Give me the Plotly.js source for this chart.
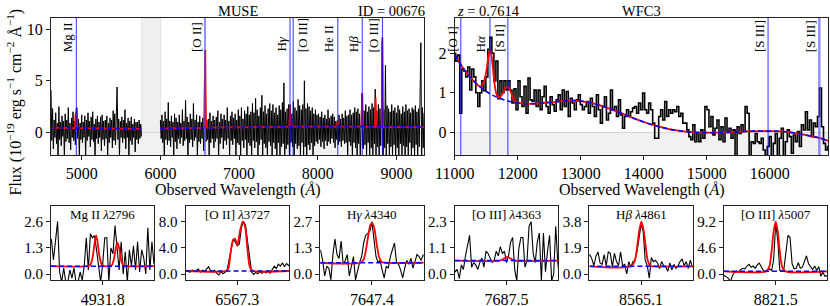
<!DOCTYPE html>
<html><head><meta charset="utf-8">
<script src="https://cdn.plot.ly/plotly-3.0.1.min.js"></script>
<style>html,body{margin:0;padding:0;background:#fff}#plot{width:830px;height:306px}</style>
</head><body><div id="plot"></div>
<script>
// ---------------- DATA ----------------
// MUSE spectrum (flux, 1e-19 cgs), two segments on a 10 A grid
const museStart1 = 4610, museStart2 = 6000, museStep = 10;
const museFlux1 = [
4.1,-0.8,2.3,-1.6,1.2,-0.5,1.9,-1.1,0.9,-2.4,
2.5,-0.7,1.0,-1.3,1.6,-0.4,1.1,-2.4,1.8,-0.9,
1.2,-0.6,2.4,-1.0,0.9,-1.7,1.4,-0.5,2.0,-0.8,
1.1,-1.2,2.2,2.4,-0.6,1.3,-2.4,0.9,-0.7,1.7,
-1.0,1.0,-0.5,1.6,-2.4,1.2,-0.8,1.9,-0.4,1.1,
-1.4,1.5,-0.7,2.0,-0.9,0.8,-2.4,1.3,-0.6,1.6,
-1.1,1.0,-0.5,1.5,-1.8,1.7,-0.7,1.1,-1.3,1.2,
-0.6,1.6,-2.4,0.9,-1.0,1.4,-0.5,1.2,-1.5,2.1,
-0.8,1.8,-1.2,1.0,4.4,-0.7,1.3,-2.4,1.1,-0.5,
1.5,-1.0,1.2,-0.6,2.2,-1.6,0.9,-0.5,1.4,-2.4,
1.1,-0.8,1.5,-1.2,0.8,-0.5,1.3,-1.9,1.0,-0.7,
1.0,-1.1,1.2,-0.6,0.8,-0.4];
const museFlux2 = [
1.2,-0.6,1.7,-1.0,1.1,-2.4,2.0,-0.7,1.3,-1.2,
2.9,-0.8,1.1,-1.4,1.6,-0.5,1.0,-2.4,1.8,-0.9,
1.4,-1.6,1.0,-0.6,1.7,-1.1,0.9,-0.5,2.2,-1.3,
1.1,-0.8,3.1,-0.6,1.5,-2.4,1.0,-1.0,1.8,-0.7,
1.3,-1.4,2.8,-0.8,1.2,-0.5,1.7,-2.4,1.0,-0.9,
1.6,-1.1,1.0,-0.6,1.4,-1.8,1.7,7.9,-0.9,1.2,
-0.7,1.3,-2.4,1.9,-1.0,1.1,-0.6,1.6,-1.5,1.2,
-0.9,1.5,-0.6,2.1,-2.4,1.0,-1.1,1.8,-0.5,1.3,
-1.6,1.7,-0.8,1.2,-1.2,2.4,-0.6,1.1,-2.4,1.6,
-0.8,2.0,-1.2,1.4,-0.6,1.8,-2.4,1.2,-1.0,2.2,
-1.2,1.6,-2.4,2.4,-0.8,1.3,-1.5,2.1,-0.7,1.8,
-2.4,2.5,-1.0,1.7,-1.3,2.0,-2.4,2.8,-0.8,1.9,
-1.5,3.3,-0.9,2.2,-2.4,1.6,-1.2,2.4,-0.7,3.6,
-2.4,2.0,-1.1,2.6,-1.5,1.8,-2.4,2.3,-0.9,2.8,
-1.3,2.1,-2.4,2.7,-1.0,1.9,-1.6,2.4,-2.4,1.7,
-1.0,2.6,-2.4,2.2,-1.4,2.9,-1.1,4.8,-2.4,2.0,
-1.6,2.3,-1.2,2.7,-2.4,2.7,-1.0,1.8,-1.4,3.0,
-2.4,2.4,-1.1,2.1,-1.6,3.2,-1.3,2.6,-2.4,2.2,
-1.0,2.7,-2.4,5.0,-1.4,2.3,-2.4,2.8,-1.2,2.5,
-1.7,2.1,-1.0,2.4,-2.4,1.8,-1.3,2.2,-0.9,1.7,
-1.1,1.8,-0.7,1.5,-1.4,2.0,-0.9,1.4,-1.6,1.7,
-0.8,1.3,-1.3,2.2,-0.9,1.4,-1.1,1.6,-0.6,1.8,
-1.0,1.5,-1.5,1.1,-0.7,1.2,-1.2,1.7,-0.9,1.3,
-1.4,1.8,-0.8,1.4,-1.1,2.1,-1.0,1.6,-2.4,1.7,
-0.9,2.2,-1.3,1.7,-2.4,1.9,-1.0,2.4,-1.5,2.0,
-2.4,2.3,-1.1,1.8,-2.4,2.6,3.7,-1.4,-1.6,2.1,
-1.2,2.7,-2.4,2.0,-1.0,2.5,-2.4,2.2,-1.5,2.8,
-2.4,2.4,-1.1,4.2,-2.4,2.1,-1.4,2.7,-2.4,2.3,
-1.3,2.5,8.9,-2.4,2.2,-1.5,6.5,-2.4,2.6,-1.1,
2.3,-2.4,2.0,-1.4,2.7,-2.4,2.1,-1.2,2.4,-2.4,
1.9,-1.5,2.6,-2.4,2.2,-1.1,1.8,-2.4,2.5,-1.3,
2.0,-2.4,2.7,-1.4,2.1,-2.4,2.3,-1.0,1.9,-2.4,
2.4,-1.5,2.2,-2.4,2.6,-1.2,2.0,-2.4,2.3,-1.4,
2.1,8.7,-2.4,2.4,-1.5,1.9];
// MUSE model (red) and continuum (blue dashed)
const museModelWave = [4610,4915,4921,4926,4931,4935,4939,4944,5760,5880,6000,6557,6561,6565,6568,6571,6575,6580,7640,7644,7647,7651,7655,7683,7688,7692,8249,8254,8259,8557,8561,8565,8569,8573,8727,8731,8735,8739,8743,8813,8817,8821,8825,8829,9350];
const museModelFlux = [0.45,0.40,1.5,1.95,1.0,1.3,1.6,0.40,0.33,null,0.36,0.44,3.5,5.4,4.5,8.0,3.0,0.45,0.55,1.6,2.6,1.6,0.55,0.56,0.75,0.56,0.55,1.2,0.55,0.55,2.4,3.85,2.4,0.55,0.53,2.2,3.36,2.2,0.53,0.52,6.0,9.2,6.0,0.52,0.54];
const museContWave = [4610,5760,5880,6000,6570,7650,8560,9350];
const museContFlux = [0.45,0.33,null,0.36,0.45,0.55,0.55,0.54];
const museGap = [5762, 6004];
const museLineWaves = [4931.8, 6567.3, 7647.4, 7687.5, 8254.6, 8565.1, 8821.5];
const museLineNames = ['Mg II','[O II]','H<i>γ</i>','[O III]','He II','H<i>β</i>','[O III]'];
const museLabelSide = ['l','l','l','r','l','l','l'];

// WFC3 spectrum
const wfc3Start = 11000, wfc3Step = 31.9;
const wfc3Flux = [
2.0,1.8,1.95,0.48,1.6,1.55,1.4,1.65,1.07,1.6,
1.4,1.0,0.65,1.0,1.3,1.05,1.4,2.1,2.4,2.0,
1.3,1.8,0.85,1.3,1.0,1.3,1.07,1.3,1.07,0.74,
1.1,0.57,1.3,0.9,0.65,1.16,0.48,1.37,0.82,0.78,
1.07,0.65,1.07,0.57,0.9,1.16,0.65,0.48,0.9,0.7,
0.53,0.82,0.95,0.57,1.07,0.65,1.03,0.4,0.86,0.74,
0.57,0.82,0.95,0.7,0.57,0.65,0.78,0.48,0.86,0.65,
0.4,0.95,0.57,0.23,0.65,0.9,0.31,0.48,1.07,0.57,
0.65,0.4,0.82,0.44,0.1,0.4,0.57,
0.40,0.52,0.61,0.65,0.48,0.74,0.57,0.99,0.57,0.48,
0.74,0.57,0.23,-0.15,-0.15,0.40,0.57,0.31,0.78,0.40,
0.57,0.48,0.57,0.52,0.65,0.40,0.48,0.23,0.23,0.06,
-0.11,-0.19,0.19,-0.24,-0.03,-0.24,0.06,-0.15,0.65,0.57,
0.14,0.40,-0.07,0.10,0.31,-0.19,0.14,-0.24,0.36,0.02,
0.10,-0.15,0.06,-0.7,0.14,-0.03,0.19,0.02,0.65,0.48,
-0.7,-0.24,-0.28,-0.03,-0.24,-0.28,-0.15,-0.45,-0.7,-0.36,
-0.11,-0.7,-0.28,-0.03,-0.7,-0.15,0.10,-0.7,-0.24,0.06,
-0.11,-0.53,-0.07,-0.24,0.02,-0.36,0.19,0.06,0.52,0.06,
0.31,-0.11,0.23,0.14,0.40,1.12,0.14,-0.28,-0.45,-0.36];
const wfc3ModelWave = [11000,11100,11200,11300,11400,11450,11480,11500,11520,11540,11560,11580,11600,11620,11640,11660,11680,11700,11720,11750,11780,11810,11840,11870,11900,11930,11960,12000,12200,12400,12600,12800,13000,13200,13400,13600,13800,14000,14200,14400,14600,14800,15000,15200,15400,15600,15800,16000,16200,16400,16600,16800,16930];
const wfc3ModelFlux = [1.96,1.70,1.48,1.30,1.16,1.22,1.38,1.52,1.75,1.96,2.08,1.98,1.72,1.40,1.14,0.98,0.90,0.88,0.89,0.95,1.04,1.12,1.15,1.10,0.98,0.86,0.79,0.75,0.72,0.74,0.77,0.80,0.79,0.73,0.63,0.51,0.38,0.26,0.16,0.08,0.03,0.0,-0.01,-0.01,0.0,0.02,0.03,0.03,0.02,-0.02,-0.08,-0.15,-0.22];
const wfc3ContWave = [11000,11100,11200,11300,11400,11500,11600,11700,11800,11900,12000,12200,12400,12600,12800,13000,13200,13400,13600,13800,14000,14200,14400,14600,14800,15000,15200,15400,15600,15800,16000,16200,16400,16600,16800,16930];
const wfc3ContFlux = [1.96,1.70,1.48,1.30,1.15,1.03,0.94,0.87,0.81,0.77,0.74,0.72,0.74,0.77,0.80,0.79,0.73,0.63,0.51,0.38,0.26,0.16,0.08,0.03,0.0,-0.01,-0.01,0.0,0.02,0.03,0.03,0.02,-0.02,-0.08,-0.15,-0.22];
const wfc3LineWaves = [11097, 11560, 11844, 15974, 16788];
const wfc3LineNames = ['[O I]','H<i>α</i>','[S II]','[S III]','[S III]'];

// Zoom-in panels
const zoomCenters = [4931.8, 6567.3, 7647.4, 7687.5, 8565.1, 8821.5];
const zoomTitles = ['Mg II <i>λ</i>2796','[O II] <i>λ</i>3727','H<i>γ</i> <i>λ</i>4340','[O III] <i>λ</i>4363','H<i>β</i> <i>λ</i>4861','[O III] <i>λ</i>5007'];
const zoomTickSteps = [1.3, 4.0, 1.35, 1.15, 1.9, 4.6];
const zoomTickText = [['0.0','1.3','2.6'],['0.0','4.0','8.0'],['0.0','1.3','2.7'],['0.0','1.1','2.3'],['0.0','1.9','3.8'],['0.0','4.6','9.2']];
const zoomCont = [0.39, 0.46, 0.58, 0.59, 0.56, 0.47];
const zoomPixStart = -32.5, zoomPixStep = 1.25, zoomHalfWidth = 31.5;
const zoomFluxMgII = [1.8,1.7,0.7,1.8,2.6,0.1,-0.4,0.3,-0.4,-0.4,0.2,-0.2,0.3,-0.4,-0.4,0.1,-0.3,0.4,1.8,0.2,2.0,1.8,1.9,1.2,0.3,-0.4,0.5,1.8,1.8,-0.4,1.3,1.0,2.4,1.3,0.2,1.6,0.0,1.1,-0.4,1.2,0.4,1.4,0.2,1.6,0.1,1.2,0.8,0.0,2.3,0.2,1.6,0.5,1.0];
const zoomFluxOII = [0.6,0.5,0.45,0.3,0.6,0.35,0.5,0.75,0.3,0.6,0.4,0.8,1.1,0.5,0.3,0.55,0.1,-0.15,0.35,0.05,0.3,0.5,2.2,3.6,5.3,4.9,4.3,4.6,7.1,8.0,7.5,5.0,2.2,0.3,-0.05,0.25,0.05,0.35,0.1,0.45,0.15,0.5,0.1,0.6,1.2,0.85,1.5,1.2,1.7,1.1,1.6,1.3,1.5];
const zoomFluxHg = [1.3,1.2,0.7,-0.1,0.4,0.3,-0.3,1.0,1.8,1.0,0.8,1.7,0.5,0.7,1.0,-0.1,0.4,0.9,-0.3,0.2,0.6,0.9,1.6,2.0,2.1,2.2,2.7,1.8,0.9,0.6,0.7,0.2,-0.2,0.4,0.3,0.9,1.2,1.6,0.6,0.5,0.2,-0.2,0.3,0.7,0.5,0.8,0.3,0.7,1.0,0.9,0.7,1.0,0.8];
const zoomFluxOIII4363 = [0.3,0.1,0.2,-0.2,0.4,0.2,0.8,1.2,1.7,0.3,0.5,0.4,0.2,0.5,0.7,0.3,1.0,0.9,0.7,0.5,0.6,1.0,0.8,1.2,0.9,1.0,0.5,0.8,1.4,1.6,0.2,-0.3,1.1,1.6,1.6,0.3,0.6,2.1,2.3,0.9,0.5,1.4,1.8,-0.3,1.8,0.1,1.0,1.7,-0.3,0.0,2.1,0.5,-0.3];
const zoomFluxHb = [1.2,1.4,1.1,0.6,1.3,1.6,0.8,0.7,1.4,0.6,1.6,1.5,0.5,1.5,0.9,0.6,1.6,0.6,0.7,0.0,0.9,0.5,0.9,1.0,1.6,2.6,3.6,3.1,1.0,0.6,-0.3,1.2,0.9,1.0,0.8,0.4,0.9,0.6,0.5,0.2,0.8,0.3,0.7,0.4,0.6,0.9,1.1,0.6,0.9,0.4,1.0,0.5,0.7];
const zoomFluxOIII5007 = [0.1,-0.3,-0.5,-0.8,-1.3,-0.2,0.3,0.5,0.4,0.8,1.0,0.9,1.4,1.7,1.2,1.4,1.0,1.6,1.9,1.3,0.6,0.4,0.6,0.9,0.6,2.5,8.9,6.0,0.6,0.5,0.9,3.5,6.8,6.4,1.8,0.9,1.0,2.0,1.0,1.2,2.2,3.2,1.8,1.2,0.8,1.4,0.6,1.3,-0.4,0.3,-0.4,-0.3,-0.9];
const zoomModelOffMgII = [-31.5,-9,-7.5,-6,-5,-4,-3,-2,-0.5,1,4,5.5,7,8,9,10,11,12.5,14,31.5];
const zoomModelValMgII = [0.39,0.39,0.45,0.9,1.5,1.92,1.5,0.9,0.45,0.39,0.39,0.43,0.8,1.3,1.56,1.3,0.8,0.43,0.39,0.39];
const zoomModelOffOII = [-31.5,-7,-5.5,-4.2,-2.6,-1.4,0,1.6,3.3,4.7,6.1,7.7,9.3,31.5];
const zoomModelValOII = [0.46,0.46,0.8,3.0,5.2,5.4,4.4,6.5,8.0,7.3,4.0,1.0,0.5,0.46];
const zoomModelOffHg = [-31.5,-7,-5,-3.5,-2,-0.8,0.4,1.6,3,4.5,6,8,31.5];
const zoomModelValHg = [0.58,0.58,0.75,1.3,2.1,2.55,2.6,2.3,1.5,0.85,0.62,0.58,0.58];
const zoomModelOffOIII4363 = [-31.5,-4,-2,0.5,3,5,31.5];
const zoomModelValOIII4363 = [0.59,0.59,0.66,0.75,0.66,0.59,0.59];
const zoomModelOffHb = [-31.5,-6,-4,-2.5,-1.2,0.2,1.5,2.8,4,5.5,7,31.5];
const zoomModelValHb = [0.56,0.56,0.9,1.9,3.1,3.8,3.2,2.0,1.0,0.6,0.56,0.56];
const zoomModelOffOIII5007 = [-31.5,-6,-4,-2.5,-1.2,0,1.2,2.5,4,6,31.5];
const zoomModelValOIII5007 = [0.47,0.47,1.2,4.0,7.6,9.2,7.6,4.0,1.2,0.47,0.47];

// ---------------- LAYOUT HELPERS ----------------
const W = 830, H = 306;
const FONT = 'Liberation Serif, Times New Roman, serif';
const fx = p => p / W;
const fy = p => 1 - p / H;
const FRAME = '#222';
const BLUE = '#0000ff', RED = '#ff0000';

const zoomFlux = [zoomFluxMgII, zoomFluxOII, zoomFluxHg, zoomFluxOIII4363, zoomFluxHb, zoomFluxOIII5007];
const zoomModelOff = [zoomModelOffMgII, zoomModelOffOII, zoomModelOffHg, zoomModelOffOIII4363, zoomModelOffHb, zoomModelOffOIII5007];
const zoomModelVal = [zoomModelValMgII, zoomModelValOII, zoomModelValHg, zoomModelValOIII4363, zoomModelValHb, zoomModelValOIII5007];

const axBase = () => ({
  showline: true, mirror: true, linecolor: FRAME, linewidth: 1,
  ticks: 'outside', ticklen: 4, tickwidth: 1, tickcolor: FRAME,
  showgrid: false, zeroline: false, fixedrange: true,
  exponentformat: 'none', separatethousands: false,
  tickfont: {family: FONT, size: 16, color: '#000'}
});

const leftPx = {x0: 51, x1: 424, y0: 18, y1: 155};
const rightPx = {x0: 454.7, x1: 828.3, y0: 18, y1: 155};
const leftXRange = [4610, 9350], leftYRange = [-2.2, 11.1];
const rightXRange = [11000, 16930], rightYRange = [-0.575, 2.89];

const traces = [];
const shapes = [];
const annotations = [];

// --- MUSE panel ---
const museWave1 = museFlux1.map((_, i) => museStart1 + i * museStep);
const museWave2 = museFlux2.map((_, i) => museStart2 + i * museStep);
traces.push({x: museWave1, y: museFlux1, xaxis: 'x', yaxis: 'y', mode: 'lines', line: {color: '#000', width: 1}, hoverinfo: 'skip'});
traces.push({x: museWave2, y: museFlux2, xaxis: 'x', yaxis: 'y', mode: 'lines', line: {color: '#000', width: 1}, hoverinfo: 'skip'});
traces.push({x: museModelWave, y: museModelFlux, xaxis: 'x', yaxis: 'y', mode: 'lines', line: {color: RED, width: 1.8}, hoverinfo: 'skip'});
traces.push({x: museContWave, y: museContFlux, xaxis: 'x', yaxis: 'y', mode: 'lines', line: {color: BLUE, width: 1.6, dash: '5px,3px'}, hoverinfo: 'skip'});

shapes.push({type: 'rect', xref: 'x', yref: 'y domain', x0: museGap[0], x1: museGap[1], y0: 0, y1: 1, fillcolor: '#efefef', line: {color: '#e2e2e2', width: 1}, layer: 'below'});
shapes.push({type: 'rect', xref: 'x domain', yref: 'y', x0: 0, x1: 1, y0: leftYRange[0], y1: 0, fillcolor: '#f1f1f1', line: {width: 0}, layer: 'below'});
museLineWaves.forEach((w, i) => {
  const wide = (i === 1);
  shapes.push({type: 'line', xref: 'x', yref: 'y domain', x0: w, x1: w, y0: 0, y1: 1,
    line: {color: wide ? 'rgba(70,70,255,0.6)' : 'rgba(0,0,255,0.8)', width: wide ? 2 : 1}, layer: 'above'});
  const right = museLabelSide[i] === 'r';
  annotations.push({x: w, xref: 'x', y: fy(53), yref: 'paper', text: museLineNames[i], textangle: -90,
    xanchor: right ? 'left' : 'right', yanchor: 'bottom', showarrow: false, xshift: right ? 0.5 : -0.5,
    font: {family: FONT, size: 13, color: '#000'}, borderpad: 0});
});

// --- WFC3 panel ---
const wfc3Wave = wfc3Flux.map((_, i) => wfc3Start + i * wfc3Step);
traces.push({x: wfc3Wave, y: wfc3Flux, xaxis: 'x2', yaxis: 'y2', mode: 'lines', line: {color: '#000', width: 1.6, shape: 'hvh'}, hoverinfo: 'skip'});
traces.push({x: wfc3ModelWave, y: wfc3ModelFlux, xaxis: 'x2', yaxis: 'y2', mode: 'lines', line: {color: RED, width: 1.8, shape: 'spline'}, hoverinfo: 'skip'});
traces.push({x: wfc3ContWave, y: wfc3ContFlux, xaxis: 'x2', yaxis: 'y2', mode: 'lines', line: {color: BLUE, width: 1.6, dash: '5px,3px', shape: 'spline'}, hoverinfo: 'skip'});
shapes.push({type: 'rect', xref: 'x2 domain', yref: 'y2', x0: 0, x1: 1, y0: rightYRange[0], y1: 0, fillcolor: '#f1f1f1', line: {width: 0}, layer: 'below'});
wfc3LineWaves.forEach((w, i) => {
  const wide = (i === 4);
  shapes.push({type: 'line', xref: 'x2', yref: 'y2 domain', x0: w, x1: w, y0: 0, y1: 1,
    line: {color: wide ? 'rgba(70,70,255,0.6)' : 'rgba(0,0,255,0.8)', width: wide ? 2.5 : 1}, layer: 'above'});
  annotations.push({x: w, xref: 'x2', y: fy(53), yref: 'paper', text: wfc3LineNames[i], textangle: -90,
    xanchor: 'right', yanchor: 'bottom', showarrow: false, xshift: -0.5,
    font: {family: FONT, size: 13, color: '#000'}, borderpad: 0});
});

const layout = {
  width: W, height: H, margin: {l: 0, r: 0, t: 0, b: 0},
  paper_bgcolor: '#fff', plot_bgcolor: '#fff', showlegend: false,
  font: {family: FONT, size: 16, color: '#000'},
  xaxis: Object.assign(axBase(), {domain: [fx(leftPx.x0), fx(leftPx.x1)], range: leftXRange, anchor: 'y', tickvals: [5000, 6000, 7000, 8000, 9000], tickformat: 'd'}),
  yaxis: Object.assign(axBase(), {domain: [fy(leftPx.y1), fy(leftPx.y0)], range: leftYRange, anchor: 'x', tickvals: [0, 5, 10], zeroline: true, zerolinecolor: '#d6d6d6', zerolinewidth: 1}),
  xaxis2: Object.assign(axBase(), {domain: [fx(rightPx.x0), fx(rightPx.x1)], range: rightXRange, anchor: 'y2', tickvals: [11000, 12000, 13000, 14000, 15000, 16000], tickformat: 'd'}),
  yaxis2: Object.assign(axBase(), {domain: [fy(rightPx.y1), fy(rightPx.y0)], range: rightYRange, anchor: 'x2', tickvals: [0, 1, 2], zeroline: true, zerolinecolor: '#d6d6d6', zerolinewidth: 1}),
  shapes: shapes, annotations: annotations
};

// --- zoom panels ---
const SM_X0 = 51, SM_DX = 134.6, SM_W = 103.4, SM_Y0 = 205.7, SM_Y1 = 280.3;
zoomCenters.forEach((c, k) => {
  const n = k + 3, xa = 'x' + n, ya = 'y' + n;
  const s = zoomTickSteps[k];
  const xw = zoomFlux[k].map((_, i) => c + zoomPixStart + i * zoomPixStep);
  traces.push({x: xw, y: zoomFlux[k], xaxis: xa, yaxis: ya, mode: 'lines', line: {color: '#000', width: 1.1}, hoverinfo: 'skip'});
  traces.push({x: zoomModelOff[k].map(d => c + d), y: zoomModelVal[k], xaxis: xa, yaxis: ya, mode: 'lines', line: {color: RED, width: 1.8, shape: 'spline', smoothing: 0.8}, hoverinfo: 'skip'});
  traces.push({x: [c - zoomHalfWidth, c + zoomHalfWidth], y: [zoomCont[k], zoomCont[k]], xaxis: xa, yaxis: ya, mode: 'lines', line: {color: BLUE, width: 1.5, dash: '5px,3px'}, hoverinfo: 'skip'});
  const x0 = SM_X0 + k * SM_DX;
  layout['xaxis' + n] = Object.assign(axBase(), {domain: [fx(x0), fx(x0 + SM_W)], range: [c - zoomHalfWidth, c + zoomHalfWidth], anchor: ya, tickvals: [c], tickformat: '.1f'});
  layout['yaxis' + n] = Object.assign(axBase(), {domain: [fy(SM_Y1), fy(SM_Y0)], range: [-0.24 * s, 2.607 * s], anchor: xa, tickvals: [0, s, 2 * s], ticktext: zoomTickText[k]});
  layout['yaxis' + n].tickfont = {family: FONT, size: 15, color: '#000'};
  annotations.push({x: fx(x0 + SM_W / 2), xref: 'paper', y: fy(214), yref: 'paper', text: zoomTitles[k], showarrow: false,
    xanchor: 'center', yanchor: 'middle', font: {family: FONT, size: 13, color: '#000'}, borderpad: 0});
});

// --- titles ---
const T = (text, xp, yp, xanchor, size) => annotations.push({x: fx(xp), xref: 'paper', y: fy(yp), yref: 'paper', text, showarrow: false, xanchor, yanchor: 'middle', font: {family: FONT, size, color: '#000'}, borderpad: 0});
T('MUSE', 238, 11, 'center', 14.5);
T('ID = 00676', 391, 11, 'center', 14.5);
T('<i>z</i> = 0.7614', 456, 11, 'left', 14.5);
T('WFC3', 641.5, 11, 'center', 14.5);
T('Observed Wavelength (<i>Å</i>)', 237.5, 190, 'center', 16);
T('Observed Wavelength (<i>Å</i>)', 641.5, 190, 'center', 16);
annotations.push({x: fx(15), xref: 'paper', y: fy(197), yref: 'paper', text: 'Flux (10<sup>−19</sup> erg s<sup>−1</sup> cm<sup>−2</sup> Å<sup>−1</sup>)',
  textangle: -90, showarrow: false, xanchor: 'center', yanchor: 'bottom', font: {family: FONT, size: 16, color: '#000'}, borderpad: 0});

Plotly.newPlot('plot', traces, layout, {staticPlot: true, displayModeBar: false});
</script></body></html>
